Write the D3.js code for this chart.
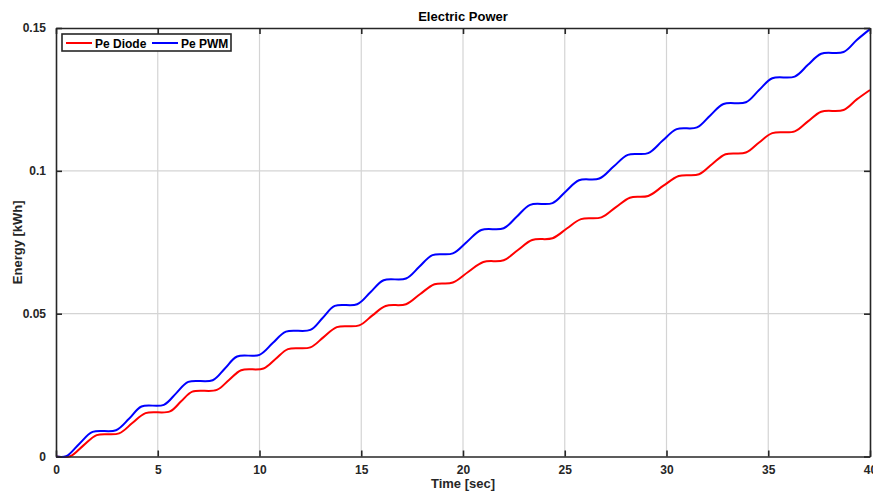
<!DOCTYPE html>
<html>
<head>
<meta charset="utf-8">
<script src="https://cdn.jsdelivr.net/npm/d3@7"></script>
<style>
  html, body { margin: 0; padding: 0; background: #fff; }
  svg { display: block; font-family: "Liberation Sans", Arial, sans-serif; }
</style>
</head>
<body>
<svg id="chart" width="873" height="491"></svg>
<script>
// ---- data ----
const timePwm = [0, 0.5, 1.15, 1.8, 2.95, 3.6, 4.2, 5.3, 5.9, 6.5, 7.7, 8.3, 8.9, 10.0, 10.65, 11.3, 12.5, 13.1, 13.7, 14.8, 15.45, 16.1, 17.2, 17.85, 18.5, 19.5, 20.2, 20.9, 22.0, 22.65, 23.3, 24.4, 25.05, 25.7, 26.7, 27.4, 28.1, 29.1, 29.8, 30.5, 31.5, 32.15, 32.8, 33.9, 34.55, 35.2, 36.3, 36.95, 37.6, 38.7, 39.35, 40];
const pePwm = [0, 0.0001, 0.0045, 0.0086, 0.0092, 0.0133, 0.0175, 0.0181, 0.0221, 0.0261, 0.0267, 0.0308, 0.0350, 0.0356, 0.0397, 0.0437, 0.0443, 0.0485, 0.0527, 0.0533, 0.0575, 0.0617, 0.0623, 0.0664, 0.0705, 0.0711, 0.0752, 0.0793, 0.0799, 0.0840, 0.0881, 0.0887, 0.0928, 0.0967, 0.0973, 0.1015, 0.1056, 0.1062, 0.1105, 0.1146, 0.1152, 0.1194, 0.1234, 0.1240, 0.1283, 0.1324, 0.1330, 0.1371, 0.1410, 0.1416, 0.1458, 0.1496];

const timeDiode = [0, 0.7, 1.35, 2.0, 3.1, 3.75, 4.4, 5.6, 6.15, 6.7, 7.9, 8.5, 9.1, 10.2, 10.8, 11.4, 12.5, 13.15, 13.8, 14.9, 15.55, 16.2, 17.2, 17.9, 18.6, 19.5, 20.25, 21.0, 22.0, 22.7, 23.4, 24.4, 25.1, 25.8, 26.8, 27.5, 28.2, 29.1, 29.85, 30.6, 31.6, 32.25, 32.9, 33.9, 34.55, 35.2, 36.3, 36.95, 37.6, 38.7, 39.35, 40];
const peDiode = [0, 0.0001, 0.0039, 0.0075, 0.0081, 0.0117, 0.0152, 0.0158, 0.0193, 0.0227, 0.0233, 0.0268, 0.0302, 0.0308, 0.0342, 0.0376, 0.0382, 0.0418, 0.0453, 0.0459, 0.0494, 0.0527, 0.0533, 0.0569, 0.0603, 0.0609, 0.0646, 0.0681, 0.0687, 0.0723, 0.0758, 0.0764, 0.0798, 0.0831, 0.0837, 0.0872, 0.0906, 0.0912, 0.0948, 0.0982, 0.0988, 0.1024, 0.1058, 0.1064, 0.1099, 0.1132, 0.1138, 0.1173, 0.1207, 0.1213, 0.1250, 0.1283];

const xTicks = [0, 5, 10, 15, 20, 25, 30, 35, 40];
const yTicks = [0, 0.05, 0.1, 0.15];
const yTickLabels = ["0", "0.05", "0.1", "0.15"];
const seriesNames = ["Pe Diode", "Pe PWM"];
const seriesColors = ["#ff0000", "#0000ff"];
const titleText = "Electric Power";
const xLabelText = "Time [sec]";
const yLabelText = "Energy [kWh]";

// ---- layout ----
const W = 873, H = 491;
const m = { left: 56, right: 3, top: 28, bottom: 34.5 };
const pw = W - m.left - m.right, ph = H - m.top - m.bottom;
const axisColor = "#262626";

const svg = d3.select("#chart");
const g = svg.append("g").attr("transform", `translate(${m.left},${m.top})`);

const x = d3.scaleLinear().domain([0, 40]).range([0, pw]);
const y = d3.scaleLinear().domain([0, 0.15]).range([ph, 0]);

// grid
g.append("g").selectAll("line").data(xTicks.slice(1, -1)).join("line")
  .attr("x1", d => x(d)).attr("x2", d => x(d)).attr("y1", 0).attr("y2", ph)
  .attr("stroke", "#d4d4d4").attr("stroke-width", 1.2);
g.append("g").selectAll("line").data(yTicks.slice(1, -1)).join("line")
  .attr("y1", d => y(d)).attr("y2", d => y(d)).attr("x1", 0).attr("x2", pw)
  .attr("stroke", "#d4d4d4").attr("stroke-width", 1.2);

// series
const lineGen = d3.line().curve(d3.curveCatmullRom.alpha(0.5));
const series = [
  { t: timeDiode, v: peDiode },
  { t: timePwm, v: pePwm }
];
series.forEach((s, i) => {
  const pts = s.t.map((t, j) => [x(t), y(s.v[j])]);
  g.append("path").attr("d", lineGen(pts))
    .attr("fill", "none").attr("stroke", seriesColors[i])
    .attr("stroke-width", 2).attr("stroke-linejoin", "round");
});

// axes (MATLAB style: inward ticks, box)
const fontStyle = sel => sel.attr("font-size", 12).attr("font-weight", "bold").attr("fill", axisColor);

const xAxis = d3.axisBottom(x).tickValues(xTicks).tickSizeInner(-6).tickSizeOuter(0).tickPadding(9).tickFormat(d3.format("d"));
const gx = g.append("g").attr("transform", `translate(0,${ph})`).call(xAxis);
gx.select(".domain").attr("stroke", axisColor).attr("stroke-width", 1.6);
gx.selectAll(".tick line").attr("stroke", axisColor).attr("stroke-width", 1.6);
gx.selectAll(".tick text").call(fontStyle).attr("font-family", null);

const xAxisTop = d3.axisTop(x).tickValues(xTicks).tickSizeInner(-6).tickSizeOuter(0).tickFormat("");
const gxt = g.append("g").call(xAxisTop);
gxt.select(".domain").attr("stroke", axisColor).attr("stroke-width", 1.6);
gxt.selectAll(".tick line").attr("stroke", axisColor).attr("stroke-width", 1.6);

const yAxis = d3.axisLeft(y).tickValues(yTicks).tickSizeInner(-6).tickSizeOuter(0).tickPadding(10)
  .tickFormat((d, i) => yTickLabels[i]);
const gy = g.append("g").call(yAxis);
gy.select(".domain").attr("stroke", axisColor).attr("stroke-width", 1.6);
gy.selectAll(".tick line").attr("stroke", axisColor).attr("stroke-width", 1.6);
gy.selectAll(".tick text").call(fontStyle).attr("font-family", null);

const yAxisRight = d3.axisRight(y).tickValues(yTicks).tickSizeInner(-6).tickSizeOuter(0).tickFormat("");
const gyr = g.append("g").attr("transform", `translate(${pw},0)`).call(yAxisRight);
gyr.select(".domain").attr("stroke", axisColor).attr("stroke-width", 1.6);
gyr.selectAll(".tick line").attr("stroke", axisColor).attr("stroke-width", 1.6);

// title & labels
svg.append("text").attr("x", m.left + pw / 2).attr("y", 21).attr("text-anchor", "middle")
  .attr("font-size", 13).attr("font-weight", "bold").attr("fill", "#000").text(titleText);
svg.append("text").attr("x", m.left + pw / 2).attr("y", 488).attr("text-anchor", "middle")
  .call(fontStyle).attr("font-size", 13).text(xLabelText);
svg.append("text").attr("transform", `translate(22,${m.top + ph / 2}) rotate(-90)`).attr("text-anchor", "middle")
  .call(fontStyle).attr("font-size", 13).text(yLabelText);

// legend
const lg = svg.append("g").attr("transform", "translate(62,34)");
lg.append("rect").attr("x", 0).attr("y", 0).attr("width", 169).attr("height", 17)
  .attr("fill", "#fff").attr("stroke", axisColor).attr("stroke-width", 1.6);
const legendX = [4, 90];
seriesNames.forEach((name, i) => {
  lg.append("line").attr("x1", legendX[i]).attr("x2", legendX[i] + 26).attr("y1", 9).attr("y2", 9)
    .attr("stroke", seriesColors[i]).attr("stroke-width", 2);
  lg.append("text").attr("x", legendX[i] + 29).attr("y", 13.5).call(fontStyle).attr("fill", "#000").text(name);
});
</script>
</body>
</html>
